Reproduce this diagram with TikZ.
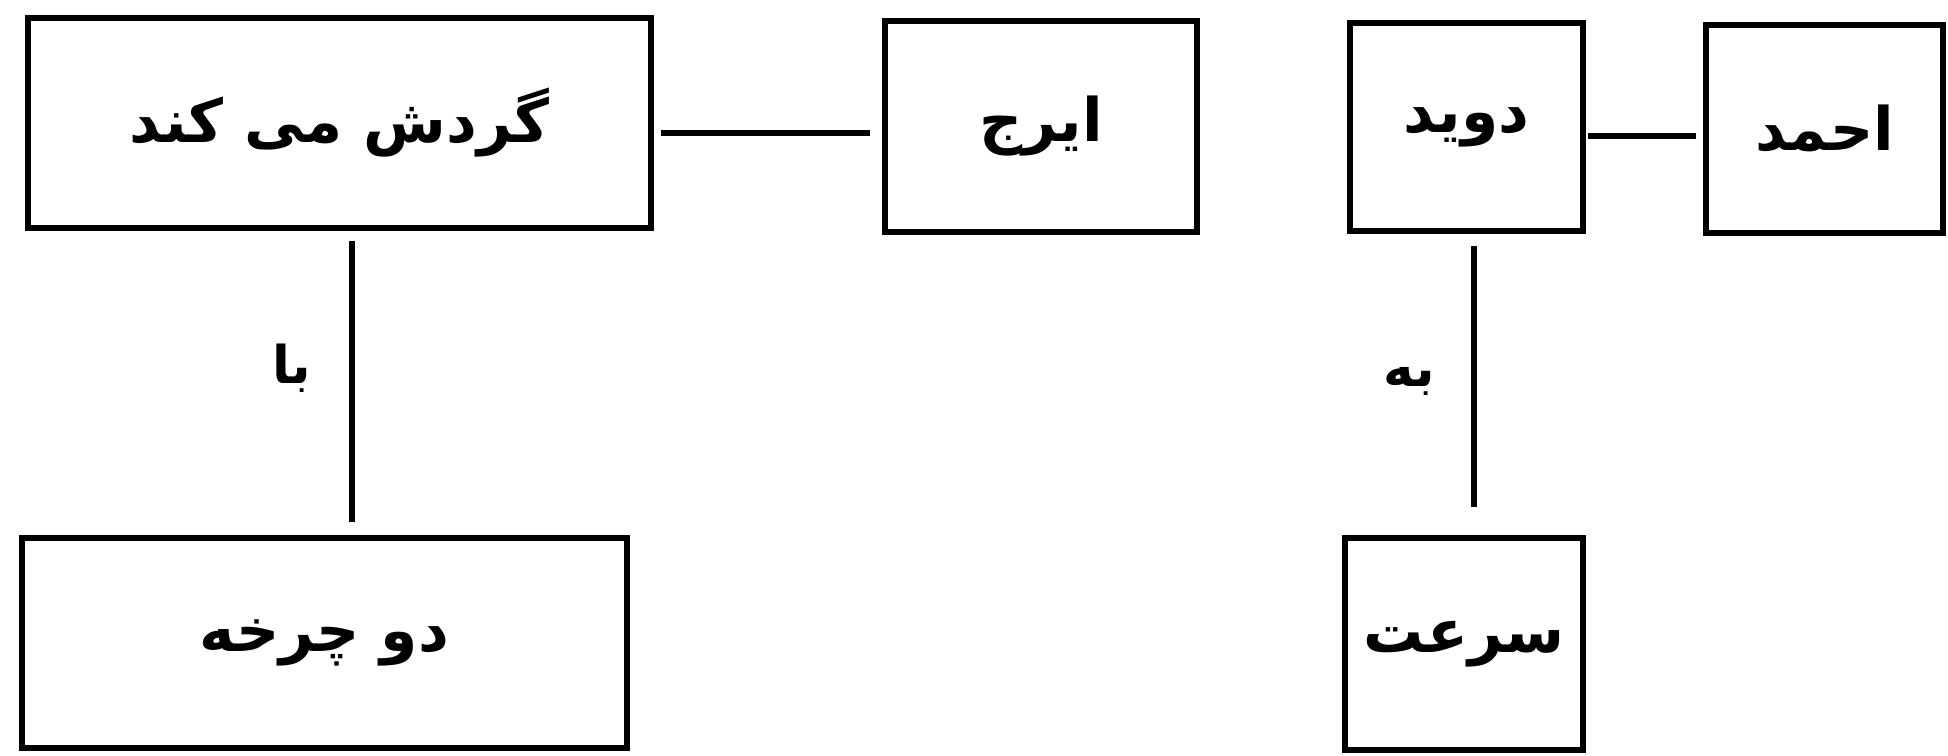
\documentclass[tikz,border=0pt]{standalone}
\usepackage{fontspec}
\usetikzlibrary{calc}
\TeXXeTstate=1
\newfontfamily\arabicfont[Script=Arabic]{DejaVu Sans}
\begin{document}
\begin{tikzpicture}[x=0.5pt,y=-0.5pt,
  box/.style={draw=black,line width=2.6pt,rectangle,inner sep=0pt,font=\arabicfont\bfseries\fontsize{30}{36}\selectfont},
  conn/.style={draw=black,line width=2.6pt},
  lbl/.style={inner sep=0pt,font=\arabicfont\bfseries\fontsize{26}{30}\selectfont}]
\fill[white] (0,0) rectangle (1948,755);
\useasboundingbox (0,0) rectangle (1948,755);
\node[box,minimum width=311.5pt,minimum height=105pt] (A) at (339.5,123) {\beginR گردش می کند\endR};
\node[box,minimum width=156pt,minimum height=105.5pt] (B) at (1041,126.5) {\beginR ایرج\endR};
\node[box,minimum width=116.5pt,minimum height=104pt] (C) at (1466.5,127) {\beginR دوید\endR};
\node[box,minimum width=118.5pt,minimum height=104pt] (D) at (1824.5,129) {\beginR احمد\endR};
\node[box,minimum width=302.5pt,minimum height=105pt] (E) at (324.5,643) {\beginR دو چرخه\endR};
\node[box,minimum width=119pt,minimum height=106pt] (F) at (1464,644) {\beginR سرعت\endR};
\draw[conn] ($(A.east)+(7,10)$) -- ($(B.west)+(-12,6.5)$);
\draw[conn] ($(C.east)+(2,9)$) -- ($(D.west)+(-7,7)$);
\draw[conn] ($(A.south)+(12.5,10)$) -- ($(E.north)+(27.5,-13)$);
\draw[conn] ($(C.south)+(7.5,12)$) -- ($(F.north)+(10,-28)$);
\node[lbl] (lba) at (292,368) {\beginR با\endR};
\node[lbl] (lbe) at (1409,381) {\beginR به\endR};
\end{tikzpicture}
\end{document}
